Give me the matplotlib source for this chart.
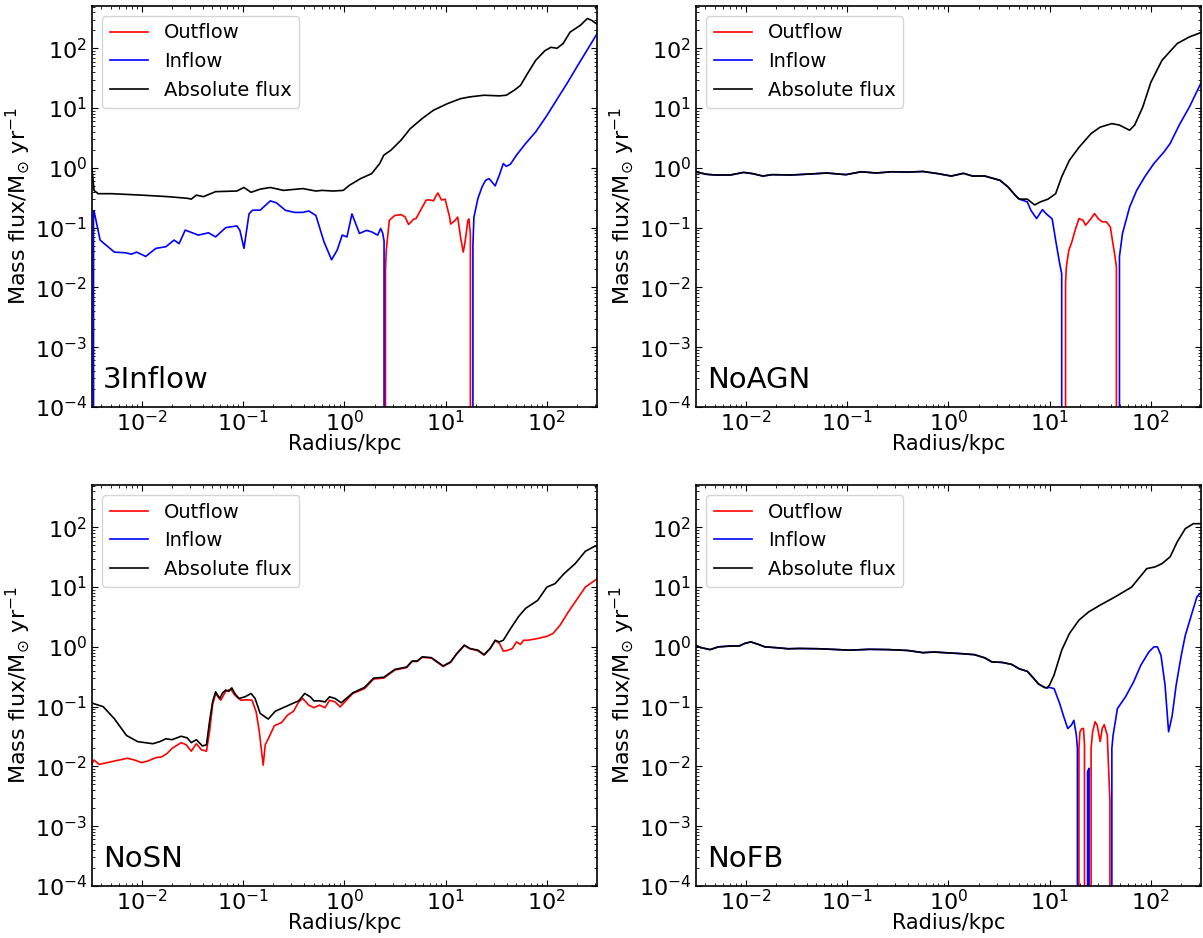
import numpy as np
import matplotlib
matplotlib.use("Agg")
import matplotlib.pyplot as plt
from matplotlib.ticker import NullFormatter, LogLocator

# ---------------- data (log10 radius in kpc, mass flux in Msun/yr) ----------------
x_ticks = [1e-2, 1e-1, 1e0, 1e1, 1e2]
y_ticks = [1e-4, 1e-3, 1e-2, 1e-1, 1e0, 1e1, 1e2]

# Panel 1: 3Inflow
p1_abs_lr = [-2.49, -2.47, -2.43, -2.30, -2.0, -1.74, -1.55, -1.51, -1.46, -1.39, -1.27, -1.06, -0.99,
             -0.92, -0.83, -0.73, -0.60, -0.41, -0.28, -0.22, -0.11, -0.01, 0.05, 0.16, 0.27, 0.35, 0.39,
             0.46, 0.56, 0.65, 0.77, 0.88, 1.02, 1.15, 1.24, 1.38, 1.53, 1.60, 1.68, 1.74, 1.81, 1.89,
             1.98, 2.04, 2.10, 2.16, 2.23, 2.33, 2.40, 2.44, 2.50]
p1_abs_v = [0.97, 0.42, 0.37, 0.37, 0.35, 0.33, 0.31, 0.30, 0.35, 0.33, 0.40, 0.41, 0.47,
            0.39, 0.44, 0.47, 0.42, 0.45, 0.41, 0.42, 0.41, 0.42, 0.51, 0.66, 0.80, 1.18, 1.63,
            1.97, 2.9, 4.5, 6.7, 9.2, 11.9, 14.4, 15.4, 16.4, 16.0, 16.4, 20, 24, 38, 63,
            91, 104, 100, 120, 187, 242, 315, 295, 250]
p1_in_lr = [-2.49, -2.475, -2.47, -2.41, -2.27, -2.16, -2.10, -2.05, -1.96, -1.86, -1.76, -1.68, -1.63,
            -1.57, -1.44, -1.34, -1.27, -1.17, -1.06, -1.03, -0.99, -0.94, -0.905, -0.83, -0.73, -0.67,
            -0.58, -0.49, -0.41, -0.35, -0.28, -0.20, -0.125, -0.07, -0.02, 0.027, 0.076, 0.10, 0.15,
            0.22, 0.27, 0.33, 0.36, 0.38, 0.393, 0.40,
            1.26, 1.27, 1.28, 1.32, 1.36, 1.395, 1.43, 1.49, 1.53, 1.57, 1.60, 1.64, 1.70, 1.79,
            1.89, 2.00, 2.10, 2.20, 2.30, 2.40, 2.50]
p1_in_v = [0, 0.19, 0.19, 0.062, 0.039, 0.038, 0.036, 0.039, 0.033, 0.045, 0.048, 0.062, 0.054,
           0.091, 0.075, 0.082, 0.070, 0.10, 0.107, 0.09, 0.045, 0.17, 0.196, 0.196, 0.28, 0.26,
           0.195, 0.18, 0.18, 0.19, 0.16, 0.058, 0.029, 0.042, 0.075, 0.07, 0.17, 0.133, 0.08,
           0.09, 0.085, 0.075, 0.097, 0.08, 0.06, 0,
           0, 0.05, 0.15, 0.31, 0.48, 0.62, 0.66, 0.50, 0.75, 1.18, 1.06, 1.15, 1.63, 2.55,
           4.0, 7.5, 14, 26, 50, 95, 180]
p1_out_lr = [0.40, 0.407, 0.415, 0.445, 0.50, 0.56, 0.60, 0.635, 0.684, 0.71, 0.77, 0.81, 0.85, 0.88,
             0.91, 0.925, 0.96, 0.996, 1.04, 1.05, 1.09, 1.12, 1.15, 1.175, 1.19, 1.22, 1.23, 1.245, 1.255]
p1_out_v = [0, 0.02, 0.042, 0.133, 0.16, 0.165, 0.152, 0.113, 0.138, 0.143, 0.22, 0.29, 0.29, 0.28,
            0.35, 0.38, 0.29, 0.30, 0.15, 0.115, 0.13, 0.15, 0.066, 0.039, 0.054, 0.13, 0.14, 0.08, 0]

# Panel 2: NoAGN
p2_abs_lr = [-2.50, -2.385, -2.30, -2.15, -2.02, -1.93, -1.83, -1.74, -1.55, -1.36, -1.20, -1.01, -0.86,
             -0.71, -0.56, -0.40, -0.25, -0.10, 0.03, 0.15, 0.24, 0.36, 0.51, 0.59, 0.66, 0.70, 0.78,
             0.853, 0.91, 0.985, 1.06, 1.12, 1.196, 1.29, 1.41, 1.50, 1.615, 1.69, 1.79, 1.84, 1.92,
             2.0, 2.11, 2.26, 2.38, 2.50]
p2_abs_v = [0.86, 0.78, 0.76, 0.76, 0.84, 0.80, 0.73, 0.77, 0.76, 0.79, 0.82, 0.77, 0.86,
            0.82, 0.86, 0.85, 0.87, 0.80, 0.73, 0.81, 0.73, 0.73, 0.62, 0.48, 0.35, 0.30, 0.30,
            0.24, 0.27, 0.30, 0.37, 0.71, 1.34, 2.2, 3.75, 4.8, 5.5, 5.2, 4.26, 5.2, 10.4,
            27, 63, 120, 155, 185]
p2_in_lr = p2_abs_lr[:27] + [0.815, 0.872, 0.93, 0.968, 1.026, 1.06, 1.10, 1.12, 1.135,
                             1.685, 1.69, 1.72, 1.79, 1.86, 1.94, 2.03, 2.13, 2.19, 2.28, 2.38, 2.50]
p2_in_v = p2_abs_v[:26] + [0.27, 0.196, 0.142, 0.20, 0.17, 0.14, 0.062, 0.025, 0.017, 0,
                           0, 0.033, 0.08, 0.22, 0.42, 0.71, 1.18, 1.85, 2.55, 5.2, 10.4, 27.4]
p2_out_lr = [1.15, 1.158, 1.166, 1.19, 1.215, 1.253, 1.29, 1.33, 1.356, 1.41, 1.444, 1.48, 1.52, 1.56,
             1.60, 1.62, 1.646, 1.66, 1.675]
p2_out_v = [0, 0.012, 0.022, 0.042, 0.054, 0.091, 0.142, 0.133, 0.11, 0.142, 0.172, 0.142, 0.125, 0.125,
            0.103, 0.062, 0.033, 0.022, 0]

# Panel 3: NoSN
p3_abs_lr = [-2.50, -2.38, -2.27, -2.15, -2.04, -1.89, -1.82, -1.76, -1.70, -1.61, -1.55, -1.51, -1.46,
             -1.40, -1.36, -1.33, -1.30, -1.27, -1.23, -1.20, -1.17, -1.14, -1.11, -1.08, -1.04, -0.98,
             -0.92, -0.88, -0.83, -0.75, -0.68, -0.58, -0.51, -0.45, -0.39, -0.335, -0.30, -0.24, -0.19,
             -0.145, -0.09, -0.03, 0.084, 0.20, 0.29, 0.39, 0.50, 0.616, 0.67, 0.72, 0.77, 0.86, 0.92,
             0.976, 1.05, 1.11, 1.186, 1.24, 1.32, 1.38, 1.44, 1.49, 1.53, 1.57, 1.64, 1.72, 1.79,
             1.91, 2.0, 2.08, 2.17, 2.28, 2.38, 2.47, 2.50]
p3_abs_v = [0.116, 0.10, 0.063, 0.033, 0.026, 0.024, 0.026, 0.029, 0.028, 0.032, 0.030, 0.025, 0.028,
            0.022, 0.023, 0.056, 0.12, 0.177, 0.137, 0.17, 0.19, 0.18, 0.206, 0.166, 0.137, 0.146,
            0.166, 0.137, 0.077, 0.062, 0.084, 0.10, 0.113, 0.125, 0.166, 0.146, 0.125, 0.125, 0.12,
            0.146, 0.137, 0.116, 0.17, 0.21, 0.30, 0.31, 0.42, 0.46, 0.58, 0.58, 0.68, 0.66, 0.56,
            0.48, 0.56, 0.77, 1.07, 0.94, 0.88, 0.74, 0.94, 1.29, 1.21, 1.29, 2.0, 3.2, 4.4,
            6.0, 10, 11.4, 16.8, 24.7, 39.7, 48, 48]
p3_out_lr = [-2.50, -2.47, -2.42, -2.27, -2.14, -2.07, -2.00, -1.94, -1.86, -1.80, -1.75, -1.70, -1.61,
             -1.56, -1.51, -1.46, -1.41, -1.36, -1.33, -1.30, -1.27, -1.22, -1.17, -1.12, -1.08, -1.02,
             -0.96, -0.91, -0.87, -0.84, -0.80, -0.78, -0.75, -0.69, -0.62, -0.56, -0.50, -0.45, -0.41,
             -0.35, -0.30, -0.245, -0.19, -0.145, -0.09, -0.04, 0.084, 0.20, 0.29, 0.39, 0.50, 0.616,
             0.67, 0.72, 0.77, 0.86, 0.92, 0.976, 1.05, 1.11, 1.186, 1.24, 1.32, 1.38, 1.44, 1.49,
             1.53, 1.57, 1.61, 1.66, 1.70, 1.74, 1.77, 1.81, 1.91, 2.0, 2.06, 2.13, 2.21, 2.29, 2.38, 2.50]
p3_out_v = [0.0105, 0.0128, 0.0108, 0.0123, 0.0137, 0.0128, 0.0116, 0.0123, 0.014, 0.0145, 0.0164, 0.020, 0.025,
            0.023, 0.018, 0.024, 0.019, 0.018, 0.038, 0.106, 0.166, 0.128, 0.18, 0.196, 0.155, 0.128,
            0.13, 0.128, 0.082, 0.04, 0.0105, 0.023, 0.029, 0.048, 0.054, 0.072, 0.084, 0.12, 0.137,
            0.106, 0.096, 0.106, 0.096, 0.128, 0.12, 0.099, 0.166, 0.20, 0.29, 0.30, 0.41, 0.45,
            0.57, 0.57, 0.67, 0.65, 0.55, 0.47, 0.55, 0.76, 1.05, 0.93, 0.86, 0.73, 0.93, 1.27,
            1.15, 0.85, 0.87, 0.94, 1.21, 1.10, 1.29, 1.29, 1.38, 1.5, 1.67, 2.3, 3.8, 6.0, 10, 13.9]
p3_in_lr = [-2.50, 2.50]
p3_in_v = [0, 0]

# Panel 4: NoFB
p4_abs_lr = [-2.50, -2.44, -2.35, -2.27, -2.16, -2.06, -2.01, -1.95, -1.88, -1.81, -1.70, -1.58, -1.47,
             -1.28, -1.09, -0.975, -0.78, -0.59, -0.40, -0.25, -0.14, 0.015, 0.13, 0.26, 0.36, 0.43,
             0.53, 0.625, 0.70, 0.78, 0.834, 0.89, 0.95, 0.975, 1.0, 1.045, 1.12, 1.196, 1.29, 1.387,
             1.50, 1.65, 1.81, 1.96, 2.04, 2.11, 2.19, 2.26, 2.34, 2.42, 2.50]
p4_abs_v = [1.07, 0.97, 0.90, 1.0, 1.03, 1.04, 1.14, 1.21, 1.11, 1.0, 0.97, 0.93, 0.94,
            0.93, 0.90, 0.88, 0.91, 0.90, 0.87, 0.80, 0.82, 0.79, 0.77, 0.74, 0.655, 0.56,
            0.55, 0.51, 0.43, 0.39, 0.31, 0.24, 0.21, 0.206, 0.23, 0.34, 0.88, 1.67, 2.8, 3.85,
            5.0, 6.9, 10, 20.4, 21.7, 24.7, 32, 57, 95, 115, 115]
p4_in_lr = p4_abs_lr[:35] + [1.045, 1.10, 1.14, 1.18, 1.215, 1.24, 1.265, 1.275, 1.28,
                             1.365, 1.375, 1.39, 1.395,
                             1.61, 1.615, 1.627, 1.67, 1.75, 1.83, 1.90, 1.98, 2.03, 2.065, 2.10,
                             2.14, 2.175, 2.21, 2.25, 2.30, 2.34, 2.40, 2.455, 2.50]
p4_in_v = p4_abs_v[:34] + [0.21, 0.20, 0.113, 0.068, 0.043, 0.049, 0.059, 0.033, 0.02, 0,
                           0, 0.0082, 0.0093, 0,
                           0, 0.02, 0.033, 0.093, 0.146, 0.26, 0.49, 0.82, 1.0, 1.0, 0.72,
                           0.23, 0.038, 0.07, 0.23, 0.72, 1.56, 3.4, 6.9, 8.3]
p4_out_lr = [1.285, 1.29, 1.30, 1.32, 1.335, 1.345, 1.355,
             1.405, 1.41, 1.425, 1.45, 1.47, 1.50, 1.52, 1.54, 1.57, 1.596, 1.605]
p4_out_v = [0, 0.02, 0.038, 0.043, 0.043, 0.023, 0,
            0, 0.02, 0.038, 0.056, 0.049, 0.026, 0.043, 0.05, 0.033, 0.0026, 0]

panel_names = ["3Inflow", "NoAGN", "NoSN", "NoFB"]
series_labels = ["Outflow", "Inflow", "Absolute flux"]
series_colors = ["red", "blue", "black"]

panels = [
    (p1_out_lr, p1_out_v, p1_in_lr, p1_in_v, p1_abs_lr, p1_abs_v),
    (p2_out_lr, p2_out_v, p2_in_lr, p2_in_v, p2_abs_lr, p2_abs_v),
    (p3_out_lr, p3_out_v, p3_in_lr, p3_in_v, p3_abs_lr, p3_abs_v),
    (p4_out_lr, p4_out_v, p4_in_lr, p4_in_v, p4_abs_lr, p4_abs_v),
]

# ---------------- figure ----------------
W, H = 1203, 938
fig = plt.figure(figsize=(W / 100, H / 100), dpi=100)

ax_w = 505 / W
ax_h = 401 / H
lefts = [92 / W, 696 / W]
bottoms = [1 - 407 / H, 1 - 886 / H]

for i, (name, data) in enumerate(zip(panel_names, panels)):
    row, col = divmod(i, 2)
    ax = fig.add_axes([lefts[col], bottoms[row], ax_w, ax_h])
    ax.set_xscale("log")
    ax.set_yscale("log")
    for k in range(3):
        lr = np.array(data[2 * k], dtype=float)
        v = np.array(data[2 * k + 1], dtype=float)
        ax.plot(10 ** lr, v, color=series_colors[k], lw=1.2, label=series_labels[k])
    ax.set_xticks(x_ticks)
    ax.set_yticks(y_ticks)
    ax.xaxis.set_minor_locator(LogLocator(base=10, subs=np.arange(2, 10)))
    ax.yaxis.set_minor_locator(LogLocator(base=10, subs=np.arange(2, 10)))
    ax.xaxis.set_minor_formatter(NullFormatter())
    ax.yaxis.set_minor_formatter(NullFormatter())
    ax.set_xlim(10 ** -2.49, 10 ** 2.495)
    ax.set_ylim(1e-4, 510)
    ax.tick_params(which="both", direction="in", top=True, right=True, labelsize=16)
    ax.tick_params(axis="x", which="both", pad=2)
    ax.tick_params(which="major", length=4)
    ax.tick_params(which="minor", length=2)
    ax.set_xlabel("Radius/kpc", fontsize=15, labelpad=-1)
    ax.set_ylabel(r"Mass flux/M$_{\odot}$ yr$^{-1}$", fontsize=16, labelpad=2)
    ax.text(0.022, 0.047, name, transform=ax.transAxes, fontsize=21, va="baseline", ha="left")
    ax.legend(loc="upper left", fontsize=14)
    for s in ax.spines.values():
        s.set_linewidth(1.2)

fig.savefig("out.png", dpi=100)
